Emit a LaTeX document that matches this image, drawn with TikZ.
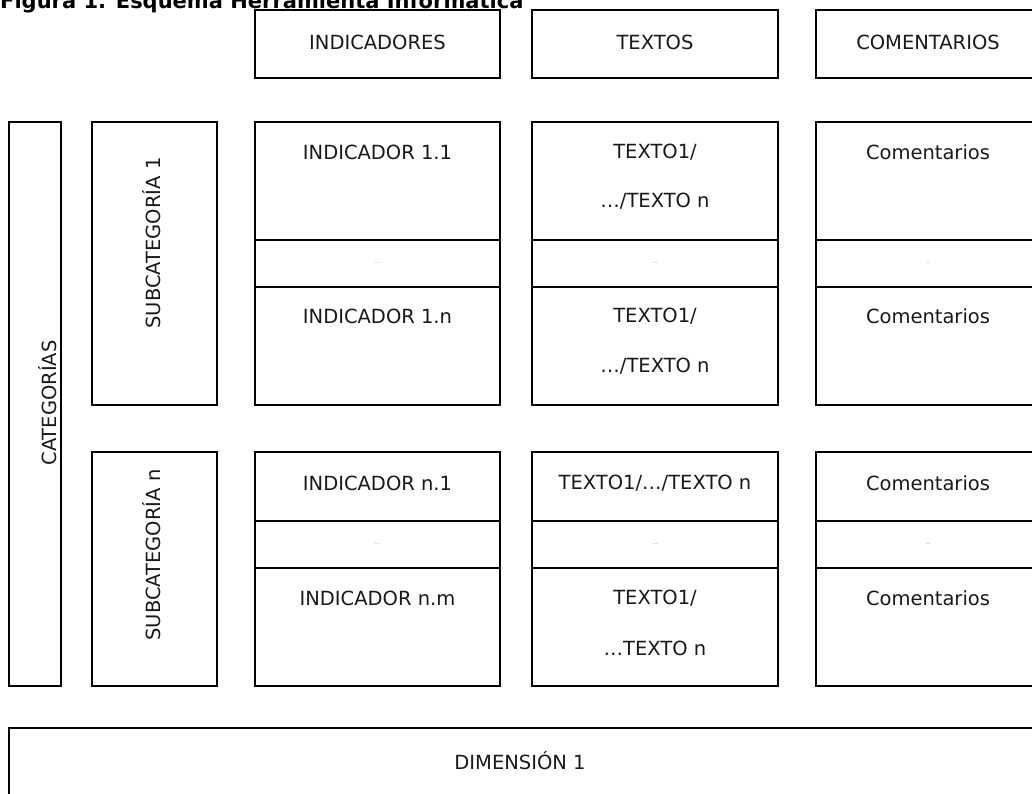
\documentclass[tikz,border=0pt]{standalone}
\usepackage{fontspec}
\setmainfont{DejaVu Sans}
\begin{document}
\begin{tikzpicture}[x=1pt,y=-1pt,
  cell/.style={draw=black, line width=2.9pt, rectangle, inner sep=0pt},
  lbl/.style={inner sep=0pt, font=\fontsize{19.5}{22}\selectfont, text=black!90},
  dots/.style={inner sep=0pt, font=\fontsize{5}{6}\selectfont, text=black!60},
  ttl/.style={inner sep=0pt, anchor=base west, font=\fontsize{21}{24}\selectfont\bfseries}]
\useasboundingbox (0,0) rectangle (1032,793);
% title
\node[ttl] (title) at (0,8) {Figura 1. Esquema Herramienta Informática};
% header
\node[cell, minimum width=245pt, minimum height=68pt] (hind) at (377.5,44) {};
\node[cell, minimum width=246pt, minimum height=68pt] (htxt) at (655,44) {};
\node[cell, minimum width=224pt, minimum height=68pt] (hcom) at (928,44) {};
\node[lbl] (thind) at (377.5,42) {INDICADORES};
\node[lbl] (thtxt) at (655,42) {TEXTOS};
\node[lbl] (thcom) at (928,42) {COMENTARIOS};
% categories
\node[cell, minimum width=52pt, minimum height=564pt] (cat) at (35,404) {};
\node[lbl, rotate=90] (tcat) at (48,403) {CATEGORÍAS};
\node[cell, minimum width=125pt, minimum height=283pt] (sub1) at (154.5,263.5) {};
\node[lbl, rotate=90] (tsub1) at (152,243) {SUBCATEGORÍA 1};
\node[cell, minimum width=125pt, minimum height=234pt] (subn) at (154.5,569) {};
\node[lbl, rotate=90] (tsubn) at (152,555) {SUBCATEGORÍA n};
% group 1
\node[cell, minimum width=245pt, minimum height=118pt] (i11) at (377.5,181) {};
\node[cell, minimum width=245pt, minimum height=47pt] (i1d) at (377.5,263.5) {};
\node[cell, minimum width=245pt, minimum height=118pt] (i1n) at (377.5,346) {};
\node[cell, minimum width=246pt, minimum height=118pt] (t11) at (655,181) {};
\node[cell, minimum width=246pt, minimum height=47pt] (t1d) at (655,263.5) {};
\node[cell, minimum width=246pt, minimum height=118pt] (t1n) at (655,346) {};
\node[cell, minimum width=224pt, minimum height=118pt] (c11) at (928,181) {};
\node[cell, minimum width=224pt, minimum height=47pt] (c1d) at (928,263.5) {};
\node[cell, minimum width=224pt, minimum height=118pt] (c1n) at (928,346) {};
\node[lbl] (li11) at (377.5,152) {INDICADOR 1.1};
\node[lbl] (lt11a) at (655,152) {TEXTO1/};
\node[lbl] (lt11b) at (655,201) {…/TEXTO n};
\node[lbl] (lc11) at (928,152) {Comentarios};
\node[dots] (di1) at (377.5,263) {…};
\node[dots] (dt1) at (655,263) {…};
\node[dots] (dc1) at (928,263) {…};
\node[lbl] (li1n) at (377.5,316) {INDICADOR 1.n};
\node[lbl] (lt1na) at (655,316) {TEXTO1/};
\node[lbl] (lt1nb) at (655,366) {…/TEXTO n};
\node[lbl] (lc1n) at (928,316) {Comentarios};
% group n
\node[cell, minimum width=245pt, minimum height=69pt] (in1) at (377.5,486.5) {};
\node[cell, minimum width=245pt, minimum height=47pt] (ind) at (377.5,544.5) {};
\node[cell, minimum width=245pt, minimum height=118pt] (inm) at (377.5,627) {};
\node[cell, minimum width=246pt, minimum height=69pt] (tn1) at (655,486.5) {};
\node[cell, minimum width=246pt, minimum height=47pt] (tnd) at (655,544.5) {};
\node[cell, minimum width=246pt, minimum height=118pt] (tnm) at (655,627) {};
\node[cell, minimum width=224pt, minimum height=69pt] (cn1) at (928,486.5) {};
\node[cell, minimum width=224pt, minimum height=47pt] (cnd) at (928,544.5) {};
\node[cell, minimum width=224pt, minimum height=118pt] (cnm) at (928,627) {};
\node[lbl] (lin1) at (377.5,483) {INDICADOR n.1};
\node[lbl] (ltn1) at (655,483) {TEXTO1/…/TEXTO n};
\node[lbl] (lcn1) at (928,483) {Comentarios};
\node[dots] (di2) at (377.5,544) {…};
\node[dots] (dt2) at (655,544) {…};
\node[dots] (dc2) at (928,544) {…};
\node[lbl] (linm) at (377.5,598) {INDICADOR n.m};
\node[lbl] (ltnma) at (655,598) {TEXTO1/};
\node[lbl] (ltnmb) at (655,648) {…TEXTO n};
\node[lbl] (lcnm) at (928,598) {Comentarios};
% dimension
\node[cell, minimum width=1030pt, minimum height=90pt] (dim) at (524,773) {};
\node[lbl] (ldim) at (520,761) {DIMENSIÓN 1};
\end{tikzpicture}
\end{document}
